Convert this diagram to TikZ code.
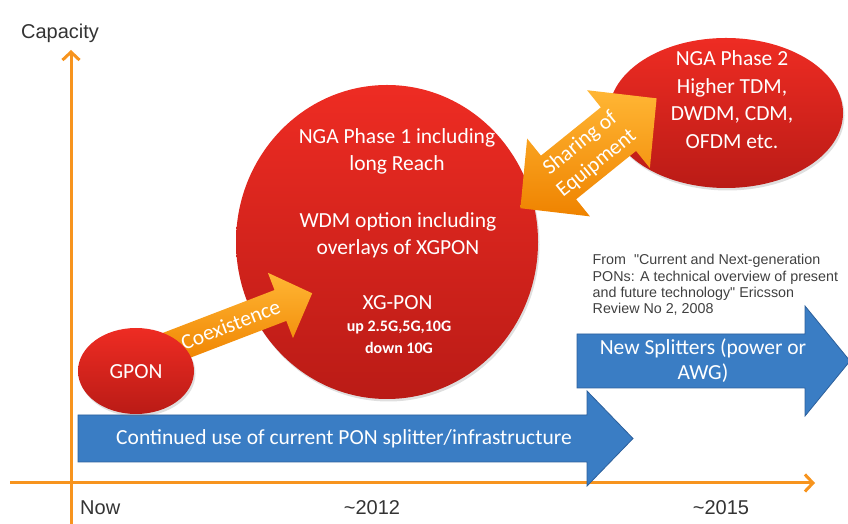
\documentclass[tikz,border=0pt]{standalone}
\usepackage{fontspec}
\setmainfont{Carlito}
\newfontfamily\labelfont{Liberation Sans}
\usetikzlibrary{arrows.meta,shapes.geometric,shadows}

\definecolor{axisorange}{HTML}{F7941E}
\definecolor{redtop}{HTML}{EE2C23}
\definecolor{redmid}{HTML}{E02420}
\definecolor{redbot}{HTML}{BA1B16}
\definecolor{arrowlight}{HTML}{FFB634}
\definecolor{arrowdark}{HTML}{EF8300}
\definecolor{bluefill}{HTML}{3A7DC4}
\definecolor{blueedge}{HTML}{2D609C}
\definecolor{labelgray}{HTML}{333333}
\definecolor{citegray}{HTML}{404040}

\tikzset{
  axisline/.style={draw=axisorange, line width=3pt,
    -{Straight Barb[length=8pt,width=17pt]}},
  bubble/.style={ellipse, inner sep=0pt, draw=none,
    top color=redtop, middle color=redmid, bottom color=redbot,
    drop shadow={opacity=0.25, shadow xshift=1.5pt, shadow yshift=-2.5pt}},
  bubbletext/.style={text=white, align=center, inner sep=0pt,
    font=\fontsize{21.5}{27}\selectfont},
  smalltext/.style={text=white, align=center, inner sep=0pt,
    font=\bfseries\fontsize{16}{22}\selectfont},
  bandarrow/.style={fill=bluefill, draw=blueedge, line width=0.8pt},
  bandtext/.style={text=white, align=center, inner sep=0pt,
    font=\fontsize{21.5}{25}\selectfont},
  linkarrow/.style={top color=arrowlight, bottom color=arrowdark, draw=none},
  linktext/.style={text=white, align=center, inner sep=0pt,
    font=\fontsize{21.5}{26}\selectfont},
  axislabel/.style={text=labelgray, inner sep=0pt,
    font=\labelfont\fontsize{20}{24}\selectfont},
  citetext/.style={text=citegray, align=left, inner sep=0pt,
    font=\labelfont\fontsize{14.3}{16.2}\selectfont},
}

\begin{document}
\begin{tikzpicture}[x=1pt,y=1pt]
\useasboundingbox (0,0) rectangle (848,524);

% axes
\coordinate (ybot) at (71,0);
\coordinate (ytop) at (71,474);
\coordinate (xleft) at (10,41);
\coordinate (xright) at (815,41);
\draw[axisline] (ybot) -- (ytop);
\draw[axisline] (xleft) -- (xright);

\node[axislabel] (capacity) at (60,491) {Capacity};
\node[axislabel, anchor=west] (now) at (80,16) {Now};
\node[axislabel] (y2012) at (372,16) {\textasciitilde 2012};
\node[axislabel] (y2015) at (721,16) {\textasciitilde 2015};

% infrastructure bands
\draw[bandarrow] (78,62) -- (587,62) -- (587,38) -- (633,85.5)
  -- (587,133) -- (587,109) -- (78,109) -- cycle;
\node[bandtext] (band1) at (344,85.5)
  {Continued use of current PON splitter/infrastructure};

\draw[bandarrow] (577,136) -- (805,136) -- (805,108) -- (850,163)
  -- (805,218) -- (805,190) -- (577,190) -- cycle;
\node[bandtext] (band2) at (703,163) {New Splitters (power or\\AWG)};

% phase 1 bubble
\node[bubble, minimum width=302pt, minimum height=314pt] (phase1) at (387,282) {};
\node[bubbletext] (p1a) at (397,372.5) {NGA Phase 1 including\\long Reach};
\node[bubbletext] (p1b) at (398,288.5) {WDM option including\\overlays of XGPON};
\node[bubbletext] (p1c) at (397.5,221) {XG-PON};
\node[smalltext] (p1d) at (399,187) {up 2.5G,5G,10G\\down 10G};

% phase 2 bubble
\node[bubble, minimum width=234pt, minimum height=150pt] (phase2) at (726,411) {};
\node[bubbletext, font=\fontsize{21.5}{27.5}\selectfont] (p2) at (732,424.5)
  {NGA Phase 2\\Higher TDM,\\DWDM, CDM,\\OFDM etc.};

% coexistence arrow, from GPON into phase 1
\begin{scope}[shift={(167,175)}, rotate=21]
  \shade[linkarrow] (0,16.5) -- (121.5,16.5) -- (121.5,35) -- (155.5,0)
    -- (121.5,-35) -- (121.5,-16.5) -- (0,-16.5) -- cycle;
  \node[linktext, rotate=21] (coex) at (68,0) {Coexistence};
\end{scope}

% GPON bubble
\node[bubble, minimum width=116pt, minimum height=86pt] (gpon) at (136,153) {};
\node[bubbletext] (gpontext) at (136,152) {GPON};

% shared equipment, double arrow between the phases
\begin{scope}[shift={(588.5,370.7)}, rotate=38.9]
  \shade[linkarrow] (-87.5,0) -- (-38.5,50) -- (-38.5,28) -- (38.5,28)
    -- (38.5,50) -- (87.5,0) -- (38.5,-50) -- (38.5,-28) -- (-38.5,-28)
    -- (-38.5,-50) -- cycle;
  \node[linktext, rotate=38.9] (share) at (0,0) {Sharing of\\Equipment};
\end{scope}

% source note
\node[citetext, anchor=west] (cite) at (592.5,239)
  {From \ "Current and Next-generation\\PONs: A technical overview of present\\and future technology" Ericsson\\Review No 2, 2008};
\end{tikzpicture}
\end{document}
